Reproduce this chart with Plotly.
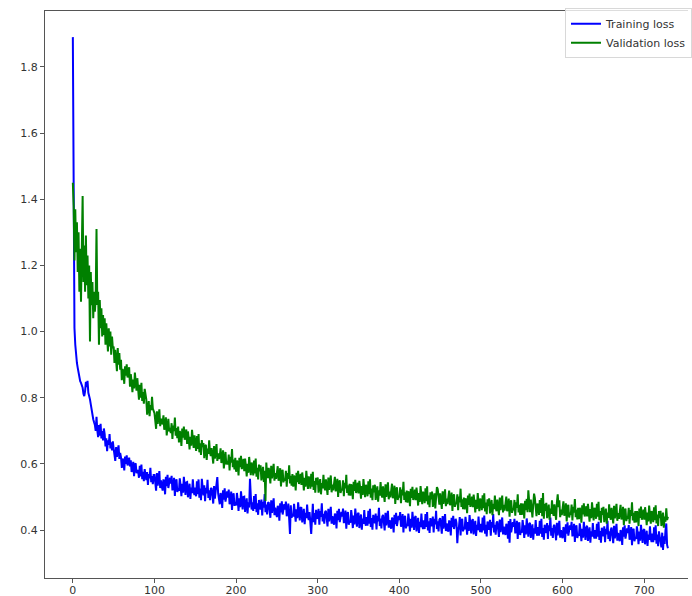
import plotly.graph_objects as go

train_loss = [
    1.890, 1.240, 1.010, 0.960, 0.925, 0.905, 0.890, 0.875, 0.860, 0.850,
    0.845, 0.838, 0.830, 0.812, 0.805, 0.820, 0.848, 0.832, 0.851, 0.815,
    0.808, 0.795, 0.780, 0.762, 0.748, 0.735, 0.726, 0.718, 0.700, 0.742,
    0.701, 0.681, 0.717, 0.685, 0.721, 0.677, 0.699, 0.671, 0.707, 0.690,
    0.653, 0.677, 0.638, 0.671, 0.658, 0.690, 0.647, 0.665, 0.641, 0.668,
    0.646, 0.628, 0.609, 0.651, 0.621, 0.639, 0.656, 0.615, 0.633, 0.620,
    0.588, 0.616, 0.608, 0.580, 0.622, 0.600, 0.626, 0.595, 0.605, 0.619,
    0.592, 0.611, 0.576, 0.583, 0.606, 0.563, 0.598, 0.602, 0.572, 0.581,
    0.578, 0.558, 0.594, 0.562, 0.598, 0.554, 0.576, 0.548, 0.584, 0.567,
    0.551, 0.575, 0.536, 0.569, 0.556, 0.588, 0.545, 0.563, 0.539, 0.566,
    0.566, 0.543, 0.519, 0.572, 0.534, 0.557, 0.578, 0.527, 0.550, 0.533,
    0.519, 0.553, 0.544, 0.508, 0.561, 0.533, 0.567, 0.527, 0.539, 0.558,
    0.540, 0.564, 0.520, 0.529, 0.558, 0.503, 0.547, 0.553, 0.515, 0.526,
    0.518, 0.556, 0.534, 0.502, 0.540, 0.513, 0.561, 0.524, 0.506, 0.544,
    0.545, 0.499, 0.534, 0.540, 0.494, 0.528, 0.512, 0.553, 0.517, 0.506,
    0.528, 0.502, 0.547, 0.508, 0.553, 0.498, 0.525, 0.490, 0.555, 0.514,
    0.505, 0.535, 0.487, 0.528, 0.511, 0.552, 0.497, 0.520, 0.490, 0.525,
    0.527, 0.504, 0.480, 0.533, 0.495, 0.518, 0.539, 0.560, 0.511, 0.494,
    0.478, 0.512, 0.503, 0.467, 0.520, 0.492, 0.526, 0.486, 0.498, 0.517,
    0.498, 0.522, 0.478, 0.487, 0.516, 0.461, 0.505, 0.511, 0.473, 0.484,
    0.474, 0.512, 0.490, 0.458, 0.496, 0.469, 0.517, 0.480, 0.462, 0.500,
    0.501, 0.455, 0.490, 0.496, 0.450, 0.484, 0.468, 0.555, 0.505, 0.462,
    0.484, 0.458, 0.503, 0.464, 0.509, 0.454, 0.481, 0.446, 0.491, 0.470,
    0.462, 0.492, 0.444, 0.485, 0.468, 0.509, 0.454, 0.477, 0.447, 0.482,
    0.484, 0.461, 0.437, 0.490, 0.452, 0.475, 0.496, 0.445, 0.468, 0.451,
    0.439, 0.473, 0.464, 0.428, 0.481, 0.453, 0.487, 0.447, 0.459, 0.478,
    0.462, 0.486, 0.442, 0.451, 0.480, 0.425, 0.388, 0.475, 0.437, 0.448,
    0.441, 0.479, 0.457, 0.425, 0.463, 0.436, 0.484, 0.447, 0.429, 0.467,
    0.469, 0.423, 0.458, 0.464, 0.418, 0.452, 0.436, 0.477, 0.441, 0.430,
    0.454, 0.428, 0.388, 0.434, 0.479, 0.424, 0.451, 0.416, 0.461, 0.440,
    0.434, 0.464, 0.416, 0.457, 0.440, 0.481, 0.426, 0.449, 0.419, 0.454,
    0.458, 0.435, 0.411, 0.464, 0.426, 0.449, 0.470, 0.419, 0.442, 0.425,
    0.416, 0.450, 0.441, 0.405, 0.458, 0.430, 0.464, 0.424, 0.436, 0.455,
    0.441, 0.465, 0.421, 0.430, 0.459, 0.404, 0.448, 0.454, 0.416, 0.427,
    0.422, 0.460, 0.438, 0.406, 0.444, 0.417, 0.465, 0.428, 0.410, 0.448,
    0.452, 0.406, 0.441, 0.447, 0.401, 0.435, 0.419, 0.460, 0.424, 0.413,
    0.439, 0.413, 0.458, 0.419, 0.464, 0.409, 0.436, 0.401, 0.446, 0.425,
    0.420, 0.450, 0.402, 0.443, 0.426, 0.467, 0.412, 0.435, 0.405, 0.440,
    0.446, 0.423, 0.399, 0.452, 0.414, 0.437, 0.458, 0.407, 0.430, 0.413,
    0.404, 0.438, 0.429, 0.393, 0.446, 0.418, 0.452, 0.412, 0.424, 0.443,
    0.430, 0.454, 0.410, 0.419, 0.448, 0.393, 0.437, 0.443, 0.405, 0.416,
    0.412, 0.450, 0.428, 0.396, 0.434, 0.407, 0.455, 0.418, 0.400, 0.438,
    0.442, 0.396, 0.431, 0.437, 0.391, 0.425, 0.409, 0.450, 0.414, 0.403,
    0.429, 0.403, 0.448, 0.409, 0.454, 0.399, 0.426, 0.391, 0.436, 0.415,
    0.411, 0.441, 0.393, 0.434, 0.417, 0.458, 0.403, 0.426, 0.396, 0.431,
    0.436, 0.413, 0.389, 0.442, 0.404, 0.427, 0.448, 0.397, 0.420, 0.403,
    0.395, 0.429, 0.420, 0.384, 0.437, 0.409, 0.443, 0.403, 0.415, 0.434,
    0.421, 0.360, 0.401, 0.410, 0.439, 0.384, 0.428, 0.434, 0.396, 0.407,
    0.402, 0.440, 0.418, 0.386, 0.424, 0.397, 0.445, 0.408, 0.390, 0.428,
    0.433, 0.387, 0.422, 0.428, 0.382, 0.416, 0.400, 0.441, 0.405, 0.394,
    0.419, 0.393, 0.438, 0.399, 0.444, 0.389, 0.416, 0.381, 0.426, 0.405,
    0.401, 0.431, 0.383, 0.424, 0.407, 0.448, 0.393, 0.416, 0.386, 0.421,
    0.426, 0.403, 0.379, 0.432, 0.394, 0.417, 0.438, 0.387, 0.410, 0.393,
    0.385, 0.419, 0.410, 0.374, 0.427, 0.362, 0.433, 0.393, 0.405, 0.424,
    0.410, 0.434, 0.390, 0.399, 0.428, 0.373, 0.417, 0.423, 0.385, 0.396,
    0.392, 0.430, 0.408, 0.376, 0.414, 0.387, 0.435, 0.398, 0.380, 0.418,
    0.422, 0.376, 0.411, 0.417, 0.371, 0.405, 0.389, 0.430, 0.394, 0.383,
    0.409, 0.383, 0.428, 0.389, 0.434, 0.379, 0.406, 0.371, 0.416, 0.395,
    0.391, 0.421, 0.373, 0.414, 0.397, 0.438, 0.383, 0.406, 0.376, 0.411,
    0.416, 0.393, 0.369, 0.422, 0.384, 0.407, 0.428, 0.377, 0.400, 0.383,
    0.375, 0.409, 0.400, 0.364, 0.417, 0.389, 0.423, 0.383, 0.395, 0.414,
    0.401, 0.425, 0.381, 0.390, 0.419, 0.364, 0.408, 0.414, 0.376, 0.387,
    0.382, 0.420, 0.398, 0.366, 0.404, 0.377, 0.425, 0.388, 0.370, 0.408,
    0.413, 0.367, 0.402, 0.408, 0.362, 0.396, 0.380, 0.421, 0.385, 0.374,
    0.400, 0.374, 0.419, 0.380, 0.425, 0.370, 0.397, 0.362, 0.407, 0.386,
    0.381, 0.411, 0.363, 0.404, 0.387, 0.428, 0.373, 0.396, 0.366, 0.401,
    0.407, 0.384, 0.360, 0.413, 0.375, 0.398, 0.419, 0.368, 0.391, 0.374,
    0.366, 0.400, 0.391, 0.355, 0.408, 0.380, 0.414, 0.374, 0.386, 0.405,
    0.391, 0.415, 0.371, 0.380, 0.409, 0.354, 0.398, 0.404, 0.366, 0.377,
    0.373, 0.411, 0.389, 0.357, 0.395, 0.368, 0.416, 0.379, 0.361, 0.399,
    0.403, 0.357, 0.392, 0.398, 0.352, 0.386, 0.370, 0.411, 0.375, 0.364,
    0.389, 0.363, 0.408, 0.369, 0.414, 0.359, 0.386, 0.351, 0.396, 0.375,
    0.370, 0.348, 0.392, 0.340, 0.381, 0.358, 0.398, 0.420, 0.355, 0.345,
]

val_loss = [
    1.450, 1.380, 1.215, 1.370, 1.240, 1.330, 1.180, 1.300, 1.120, 1.250,
    1.090, 1.210, 1.410, 1.150, 1.260, 1.120, 1.290, 1.140, 1.230, 1.100,
    1.200, 0.970, 1.180, 1.080, 1.150, 1.040, 1.120, 1.060, 1.100, 1.310,
    1.080, 1.120, 0.960, 1.095, 1.010, 1.070, 0.985, 1.050, 0.990, 1.040,
    0.960, 1.025, 0.975, 0.940, 1.010, 0.955, 1.000, 0.930, 0.985, 0.950,
    0.955, 0.905, 0.945, 0.920, 0.880, 0.950, 0.900, 0.935, 0.885, 0.915,
    0.853, 0.887, 0.878, 0.842, 0.895, 0.867, 0.901, 0.861, 0.873, 0.892,
    0.833, 0.871, 0.849, 0.817, 0.855, 0.828, 0.876, 0.839, 0.821, 0.859,
    0.820, 0.794, 0.839, 0.800, 0.845, 0.790, 0.817, 0.782, 0.827, 0.806,
    0.795, 0.749, 0.784, 0.790, 0.744, 0.778, 0.762, 0.803, 0.767, 0.756,
    0.753, 0.730, 0.706, 0.759, 0.721, 0.744, 0.765, 0.714, 0.737, 0.720,
    0.723, 0.747, 0.703, 0.712, 0.741, 0.686, 0.730, 0.736, 0.698, 0.709,
    0.693, 0.723, 0.675, 0.716, 0.699, 0.740, 0.685, 0.708, 0.678, 0.713,
    0.665, 0.699, 0.690, 0.654, 0.707, 0.679, 0.713, 0.673, 0.685, 0.704,
    0.660, 0.698, 0.676, 0.644, 0.682, 0.655, 0.703, 0.666, 0.648, 0.686,
    0.665, 0.639, 0.684, 0.645, 0.690, 0.635, 0.662, 0.627, 0.672, 0.651,
    0.663, 0.617, 0.652, 0.658, 0.612, 0.646, 0.630, 0.671, 0.635, 0.624,
    0.648, 0.625, 0.601, 0.654, 0.616, 0.639, 0.660, 0.609, 0.632, 0.615,
    0.623, 0.647, 0.603, 0.612, 0.641, 0.586, 0.630, 0.636, 0.598, 0.609,
    0.598, 0.628, 0.580, 0.621, 0.604, 0.645, 0.590, 0.613, 0.583, 0.618,
    0.576, 0.610, 0.601, 0.565, 0.618, 0.590, 0.624, 0.584, 0.596, 0.615,
    0.578, 0.616, 0.594, 0.562, 0.600, 0.573, 0.621, 0.584, 0.566, 0.604,
    0.591, 0.565, 0.610, 0.571, 0.616, 0.561, 0.588, 0.553, 0.598, 0.577,
    0.596, 0.550, 0.585, 0.591, 0.545, 0.579, 0.488, 0.604, 0.568, 0.557,
    0.588, 0.565, 0.541, 0.594, 0.556, 0.579, 0.600, 0.549, 0.572, 0.555,
    0.569, 0.593, 0.549, 0.558, 0.587, 0.532, 0.576, 0.582, 0.544, 0.555,
    0.549, 0.579, 0.531, 0.572, 0.555, 0.596, 0.541, 0.564, 0.534, 0.569,
    0.531, 0.565, 0.556, 0.520, 0.573, 0.545, 0.579, 0.539, 0.551, 0.570,
    0.536, 0.574, 0.552, 0.520, 0.558, 0.531, 0.579, 0.542, 0.524, 0.562,
    0.551, 0.525, 0.570, 0.531, 0.576, 0.521, 0.548, 0.513, 0.558, 0.537,
    0.559, 0.513, 0.548, 0.554, 0.508, 0.542, 0.526, 0.567, 0.531, 0.520,
    0.553, 0.530, 0.506, 0.559, 0.521, 0.544, 0.565, 0.514, 0.537, 0.520,
    0.537, 0.561, 0.517, 0.526, 0.555, 0.500, 0.544, 0.550, 0.512, 0.523,
    0.520, 0.550, 0.502, 0.543, 0.526, 0.567, 0.512, 0.535, 0.505, 0.540,
    0.504, 0.538, 0.529, 0.493, 0.546, 0.518, 0.552, 0.512, 0.524, 0.543,
    0.511, 0.549, 0.527, 0.495, 0.533, 0.506, 0.554, 0.517, 0.499, 0.537,
    0.528, 0.502, 0.547, 0.508, 0.553, 0.498, 0.525, 0.490, 0.535, 0.514,
    0.537, 0.491, 0.526, 0.532, 0.486, 0.520, 0.504, 0.545, 0.509, 0.498,
    0.532, 0.509, 0.485, 0.538, 0.500, 0.523, 0.544, 0.493, 0.516, 0.499,
    0.516, 0.540, 0.496, 0.505, 0.534, 0.479, 0.523, 0.529, 0.491, 0.502,
    0.499, 0.529, 0.481, 0.522, 0.505, 0.546, 0.491, 0.514, 0.484, 0.519,
    0.483, 0.517, 0.508, 0.472, 0.525, 0.497, 0.531, 0.491, 0.503, 0.522,
    0.490, 0.528, 0.506, 0.474, 0.512, 0.485, 0.533, 0.496, 0.478, 0.516,
    0.507, 0.481, 0.526, 0.487, 0.532, 0.477, 0.504, 0.469, 0.514, 0.493,
    0.516, 0.470, 0.505, 0.511, 0.465, 0.499, 0.530, 0.524, 0.488, 0.477,
    0.511, 0.488, 0.464, 0.517, 0.479, 0.502, 0.523, 0.472, 0.495, 0.478,
    0.495, 0.519, 0.475, 0.484, 0.513, 0.458, 0.502, 0.508, 0.470, 0.481,
    0.478, 0.508, 0.460, 0.501, 0.484, 0.525, 0.470, 0.493, 0.463, 0.498,
    0.462, 0.496, 0.487, 0.451, 0.504, 0.476, 0.510, 0.470, 0.482, 0.501,
    0.469, 0.507, 0.485, 0.453, 0.491, 0.464, 0.512, 0.475, 0.457, 0.495,
    0.486, 0.460, 0.505, 0.466, 0.511, 0.456, 0.483, 0.448, 0.493, 0.472,
    0.496, 0.450, 0.485, 0.491, 0.445, 0.479, 0.463, 0.504, 0.468, 0.457,
    0.492, 0.469, 0.445, 0.498, 0.460, 0.483, 0.504, 0.453, 0.476, 0.459,
    0.477, 0.501, 0.457, 0.466, 0.495, 0.440, 0.484, 0.490, 0.452, 0.463,
    0.461, 0.491, 0.443, 0.484, 0.467, 0.508, 0.453, 0.476, 0.446, 0.481,
    0.446, 0.480, 0.471, 0.435, 0.488, 0.460, 0.494, 0.454, 0.520, 0.485,
    0.454, 0.492, 0.470, 0.438, 0.476, 0.510, 0.497, 0.460, 0.442, 0.480,
    0.472, 0.446, 0.491, 0.452, 0.497, 0.442, 0.512, 0.434, 0.479, 0.458,
    0.482, 0.436, 0.471, 0.477, 0.431, 0.465, 0.449, 0.490, 0.454, 0.443,
    0.478, 0.455, 0.431, 0.484, 0.508, 0.469, 0.490, 0.439, 0.462, 0.445,
    0.463, 0.487, 0.443, 0.452, 0.481, 0.426, 0.470, 0.476, 0.438, 0.449,
    0.447, 0.477, 0.429, 0.470, 0.453, 0.494, 0.439, 0.462, 0.432, 0.467,
    0.433, 0.467, 0.458, 0.422, 0.475, 0.447, 0.481, 0.441, 0.453, 0.472,
    0.441, 0.479, 0.457, 0.425, 0.463, 0.436, 0.484, 0.447, 0.429, 0.467,
    0.460, 0.434, 0.479, 0.440, 0.485, 0.430, 0.457, 0.422, 0.467, 0.446,
    0.470, 0.424, 0.459, 0.465, 0.419, 0.453, 0.437, 0.478, 0.442, 0.431,
    0.467, 0.444, 0.420, 0.473, 0.435, 0.458, 0.479, 0.428, 0.451, 0.434,
    0.452, 0.476, 0.432, 0.441, 0.470, 0.415, 0.459, 0.465, 0.427, 0.438,
    0.437, 0.467, 0.419, 0.460, 0.443, 0.484, 0.429, 0.452, 0.422, 0.457,
    0.423, 0.457, 0.448, 0.412, 0.465, 0.437, 0.471, 0.431, 0.443, 0.462,
    0.431, 0.469, 0.447, 0.415, 0.453, 0.426, 0.474, 0.437, 0.419, 0.457,
    0.450, 0.424, 0.469, 0.430, 0.475, 0.420, 0.447, 0.412, 0.457, 0.436,
    0.458, 0.412, 0.447, 0.453, 0.407, 0.441, 0.425, 0.466, 0.430, 0.440,
]

epochs_train = list(range(len(train_loss)))
epochs_val = list(range(len(val_loss)))

x_ticks = [0, 100, 200, 300, 400, 500, 600, 700]
y_ticks = [0.4, 0.6, 0.8, 1.0, 1.2, 1.4, 1.6, 1.8]
y_tick_text = ["0.4", "0.6", "0.8", "1.0", "1.2", "1.4", "1.6", "1.8"]

fig = go.Figure()
fig.add_trace(go.Scatter(
    x=epochs_train, y=train_loss, mode="lines", name="Training loss",
    line=dict(color="#0000ff", width=2),
))
fig.add_trace(go.Scatter(
    x=epochs_val, y=val_loss, mode="lines", name="Validation loss",
    line=dict(color="#008000", width=2),
))

axis_font = dict(family="DejaVu Sans", size=11, color="#333333")
fig.update_layout(
    width=692, height=596,
    margin=dict(l=45, r=0, t=11, b=18),
    paper_bgcolor="white", plot_bgcolor="white",
    showlegend=True,
    legend=dict(
        x=0.809, y=1.005, xanchor="left", yanchor="top",
        bgcolor="rgba(255,255,255,0.8)", bordercolor="#d8d8d8", borderwidth=1,
        font=dict(family="DejaVu Sans", size=11, color="#333333"),
        tracegroupgap=0, itemwidth=30,
    ),
    hovermode=False,
    xaxis=dict(
        range=[-34.1, 753.6], tickvals=x_ticks, ticks="outside", ticklen=4,
        tickcolor="#555555", showline=True, linecolor="#555555", linewidth=1,
        mirror=True, showgrid=False, zeroline=False, tickfont=axis_font,
        automargin=False, ticklabelstandoff=-2,
    ),
    yaxis=dict(
        range=[0.255, 1.969], tickvals=y_ticks, ticktext=y_tick_text,
        ticks="outside", ticklen=4, tickcolor="#555555", showline=True,
        linecolor="#555555", linewidth=1, mirror=False, showgrid=False,
        zeroline=False, tickfont=axis_font, automargin=False,
    ),
)

fig.write_html(
    "out.html",
    config={"displayModeBar": False},
    post_script="document.body.style.margin='0px';",
)
